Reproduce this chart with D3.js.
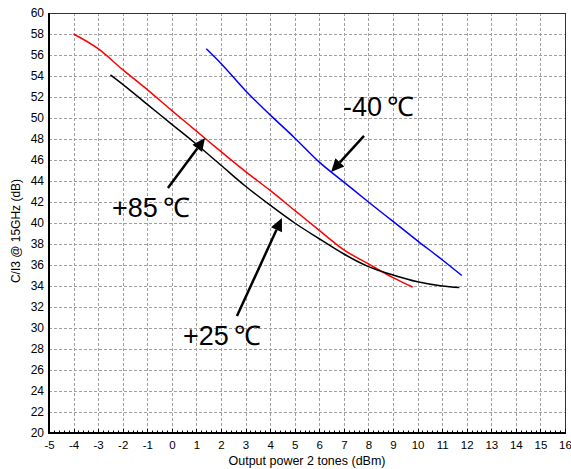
<!DOCTYPE html>
<html><head><meta charset="utf-8">
<script src="https://cdn.jsdelivr.net/npm/d3@7"></script>
<style>body{margin:0;background:#fff}svg{display:block}</style>
</head><body>
<svg id="c" width="571" height="469"></svg>
<script>
// ---- data ----
const xTicks = [-5,-4,-3,-2,-1,0,1,2,3,4,5,6,7,8,9,10,11,12,13,14,15,16];
const yTicks = [20,22,24,26,28,30,32,34,36,38,40,42,44,46,48,50,52,54,56,58,60];
const seriesNames = ["+85", "+25", "-40"];
const unit = "℃";
const red85 = [[-4,58.0],[-3,56.6],[-2,54.6],[-1,52.7],[0,50.7],[1,48.75],[2,46.8],[3,44.9],[4,43.1],[5,41.2],[6,39.3],[7,37.45],[8,36.1],[9,34.8],[9.8,33.9]];
const black25 = [[-2.5,54.1],[-2,53.2],[-1,51.3],[0,49.4],[1,47.5],[2,45.5],[3,43.5],[4,41.7],[5,40.0],[6,38.5],[7,37.05],[8,35.85],[9,35.05],[10,34.4],[11,34.0],[11.7,33.85]];
const blue40 = [[1.4,56.6],[2,55.2],[3,52.6],[4,50.3],[5,48.1],[6,45.8],[7,43.9],[8,42.0],[9,40.15],[10,38.3],[11,36.5],[11.8,35.0]];
// annotation: label position (data) and arrow from -> to (data)
const labelPos = [[-2.44,40.57],[0.45,28.38],[6.97,50.19]];
const arrowFrom = [[-0.16,43.33],[2.65,31.14],[7.82,48.29]];
const arrowTo = [[1.35,48.1],[4.48,40.48],[6.48,44.86]];
const xTitle = "Output power 2 tones (dBm)";
const yTitle = "C/I3 @ 15GHz (dB)";

// ---- layout ----
const svg = d3.select("#c");
const L = 49, R = 565, T = 13, B = 433;
const x = d3.scaleLinear().domain([-5,16]).range([L,R]);
const y = d3.scaleLinear().domain([20,60]).range([B,T]);
const font = "'Liberation Sans', Arial, sans-serif";

// grid
const g = svg.append("g");
g.selectAll(".vg").data(xTicks.slice(1,-1)).enter().append("line")
  .attr("x1",d=>Math.round(x(d))+0.5).attr("x2",d=>Math.round(x(d))+0.5).attr("y1",T).attr("y2",B)
  .attr("stroke","#a0a0a0").attr("stroke-width",1).attr("stroke-dasharray","3,2");
g.selectAll(".hg").data(yTicks.slice(1,-1)).enter().append("line")
  .attr("y1",d=>Math.round(y(d))+0.5).attr("y2",d=>Math.round(y(d))+0.5).attr("x1",L).attr("x2",R)
  .attr("stroke","#a0a0a0").attr("stroke-width",1).attr("stroke-dasharray","3,2");

// frame top/right
svg.append("line").attr("x1",L).attr("x2",R).attr("y1",T+0.5).attr("y2",T+0.5).attr("stroke","#333").attr("stroke-width",1);
svg.append("line").attr("x1",R+0.5).attr("x2",R+0.5).attr("y1",T).attr("y2",B).attr("stroke","#333").attr("stroke-width",1);

// axes
const xAxis = d3.axisBottom(x).tickValues(xTicks).tickSize(0).tickPadding(8).tickFormat(d=>String(d));
const ax = svg.append("g").attr("transform",`translate(0,${B})`).call(xAxis);
ax.select(".domain").remove();
ax.selectAll("text").attr("font-family",font).attr("font-size",11.5).attr("fill","#000");
const yAxis = d3.axisLeft(y).tickValues(yTicks).tickSize(0).tickPadding(5).tickFormat(d=>String(d));
const ay = svg.append("g").attr("transform",`translate(${L},0)`).call(yAxis);
ay.select(".domain").remove();
ay.selectAll("text").attr("font-family",font).attr("font-size",12).attr("fill","#000");

// minor ticks on x axis (inside)
const minor = d3.range(-5,16.001,0.2);
svg.append("g").selectAll("line").data(minor).enter().append("line")
  .attr("x1",d=>Math.round(x(d))+0.5).attr("x2",d=>Math.round(x(d))+0.5)
  .attr("y1",B).attr("y2",d=>Math.abs(d-Math.round(d))<1e-6?B-4:B-2.5)
  .attr("stroke","#000").attr("stroke-width",1);

svg.append("line").attr("x1",L).attr("x2",R+1).attr("y1",B).attr("y2",B).attr("stroke","#000").attr("stroke-width",2);
svg.append("line").attr("x1",L).attr("x2",L).attr("y1",T).attr("y2",B+1).attr("stroke","#000").attr("stroke-width",2);

// titles
svg.append("text").attr("x",(L+R)/2).attr("y",465).attr("text-anchor","middle")
  .attr("font-family",font).attr("font-size",12.5).text(xTitle);
svg.append("text").attr("transform",`translate(20,${(T+B)/2+8}) rotate(-90)`).attr("text-anchor","middle")
  .attr("font-family",font).attr("font-size",12).text(yTitle);

// series
const line = d3.line().x(d=>x(d[0])).y(d=>y(d[1])).curve(d3.curveMonotoneX);
const series = [red85, black25, blue40];
const colors = ["#ff0000","#000000","#0000ff"];
series.forEach((s,i)=>{
  svg.append("path").datum(s).attr("d",line).attr("fill","none")
    .attr("stroke",colors[i]).attr("stroke-width",1.5);
});

// annotations
seriesNames.forEach((name,i)=>{
  const t = svg.append("text").attr("x",x(labelPos[i][0])).attr("y",y(labelPos[i][1]))
    .attr("font-family",font).attr("font-size",27).attr("fill","#000");
  t.append("tspan").text(name);
  t.append("tspan").attr("dx",5).text(unit);
  const x0=x(arrowFrom[i][0]), y0=y(arrowFrom[i][1]), x1=x(arrowTo[i][0]), y1=y(arrowTo[i][1]);
  const ang=Math.atan2(y1-y0,x1-x0), hl=13, hw=6;
  const bx=x1-hl*Math.cos(ang), by=y1-hl*Math.sin(ang);
  svg.append("line").attr("x1",x0).attr("y1",y0).attr("x2",bx).attr("y2",by)
    .attr("stroke","#000").attr("stroke-width",2.5);
  const px=-Math.sin(ang), py=Math.cos(ang);
  svg.append("path").attr("d",`M${x1},${y1}L${bx+hw*px},${by+hw*py}L${bx-hw*px},${by-hw*py}Z`).attr("fill","#000");
});
</script>
</body></html>
